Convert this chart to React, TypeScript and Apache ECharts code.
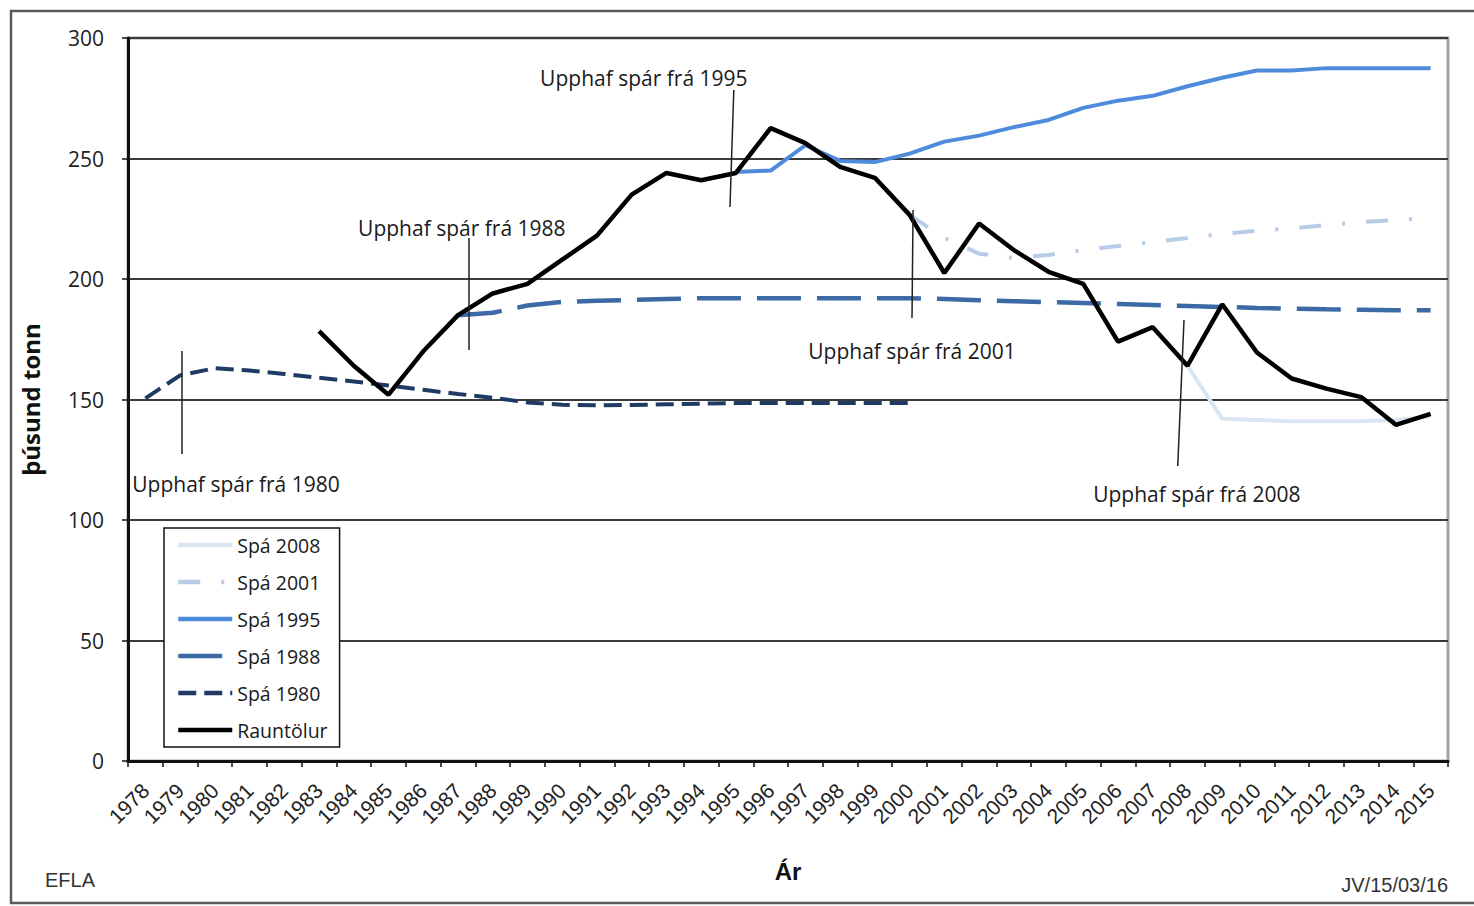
import React, { useEffect, useRef } from "react";
import * as echarts from "echarts";

const years = [
  "1978", "1979", "1980", "1981", "1982", "1983", "1984", "1985", "1986", "1987",
  "1988", "1989", "1990", "1991", "1992", "1993", "1994", "1995", "1996", "1997",
  "1998", "1999", "2000", "2001", "2002", "2003", "2004", "2005", "2006", "2007",
  "2008", "2009", "2010", "2011", "2012", "2013", "2014", "2015",
];

// 1978 .. 2015
const rauntolur = [
  null, null, null, null, null,
  178.4, 164, 152, 170, 185, 194, 198, 208, 218, 235, 244, 241, 244, 262.6, 256.4,
  246.5, 242, 226.6, 202.5, 223, 212, 203, 198, 174, 180, 164, 189.5, 169.5, 158.7,
  154.5, 151, 139.5, 144,
];

const spa1980 = [
  150.5, 160, 163, 162, 160.6, 159, 157.5, 155.8, 154, 152.3, 150.7, 148.8, 147.8,
  147.6, 147.7, 148, 148.3, 148.5, 148.5, 148.5, 148.5, 148.5, 148.5,
  null, null, null, null, null, null, null, null, null, null, null, null, null, null, null,
];

const spa1988 = [
  null, null, null, null, null, null, null, null, null,
  185, 186, 189, 190.5, 191, 191.3, 191.7, 192, 192, 192, 192, 192, 192, 192, 191.7,
  191.2, 190.8, 190.4, 190, 189.6, 189.2, 188.8, 188.4, 188, 187.7, 187.4, 187.2, 187, 187,
];

const spa1995 = [
  null, null, null, null, null, null, null, null, null, null, null, null, null, null,
  null, null, null,
  244.4, 245, 255.5, 249, 248.5, 252, 257, 259.5, 263, 266, 271, 274, 276, 280, 283.5,
  286.5, 286.5, 287.5, 287.5, 287.5, 287.5,
];

const spa2001 = [
  null, null, null, null, null, null, null, null, null, null, null, null, null, null,
  null, null, null, null, null, null, null, null,
  226.6, 217, 210.5, 208.7, 210, 212, 213.7, 215.4, 217, 218.7, 220, 221, 222.4,
  223.6, 224.5, 225.4,
];

const spa2008 = [
  null, null, null, null, null, null, null, null, null, null, null, null, null, null,
  null, null, null, null, null, null, null, null, null, null, null, null, null, null,
  null, null,
  164, 142, 141.5, 141, 141, 141, 141.5, 143,
];

const yTicks = [0, 50, 100, 150, 200, 250, 300];

// Annotation callouts (positions in year / thousand-tonne units)
const annotLabels = [
  "Upphaf spár frá 1980",
  "Upphaf spár frá 1988",
  "Upphaf spár frá 1995",
  "Upphaf spár frá 2001",
  "Upphaf spár frá 2008",
];
const annotLineTop = [
  [1979.04, 170.1],
  [1987.31, 217],
  [1994.94, 278.4],
  [2000.1, 228.6],
  [2007.9, 183],
];
const annotLineBottom = [
  [1979.04, 127.4],
  [1987.31, 170.5],
  [1994.83, 229.9],
  [2000.07, 183.8],
  [2007.72, 122.4],
];
const annotLabelPos = [
  [1980.61, 114.9],
  [1987.11, 221.2],
  [1992.35, 283.4],
  [2000.07, 170.1],
  [2008.27, 110.8],
];

const seriesNames = ["Spá 2008", "Spá 2001", "Spá 1995", "Spá 1988", "Spá 1980", "Rauntölur"];

export default function App() {
  const ref = useRef<HTMLDivElement>(null);

  useEffect(() => {
    document.body.style.margin = "0";
    if (!ref.current) return;
    const chart = echarts.init(ref.current, null, { renderer: "svg" });

    const textFont = "'Open Sans', 'Noto Sans', sans-serif";

    const option: any = {
      animation: false,
      backgroundColor: "#ffffff",
      grid: {
        left: 128,
        top: 38,
        right: 26,
        bottom: 145,
        show: true,
        borderColor: "#a3a3a3",
        borderWidth: 3,
        backgroundColor: "transparent",
      },
      legend: {
        data: seriesNames,
        orient: "vertical",
        left: 164,
        top: 528,
        itemWidth: 54,
        itemHeight: 14,
        itemGap: 17,
        padding: [7, 12, 7, 12],
        backgroundColor: "#ffffff",
        borderColor: "#111111",
        borderWidth: 1.5,
        itemStyle: { opacity: 0 },
        lineStyle: { width: 4.5 },
        textStyle: { fontFamily: textFont, fontSize: 19.5, color: "#1a1a1a" },
      },
      xAxis: [
        {
          type: "category",
          data: years,
          boundaryGap: true,
          name: "Ár",
          nameLocation: "middle",
          nameGap: 98,
          nameTextStyle: {
            fontFamily: "'Liberation Sans', Arial, sans-serif",
            fontWeight: "bold",
            fontSize: 24,
            color: "#111",
          },
          axisLine: { show: true, lineStyle: { color: "#111", width: 3 } },
          axisTick: { show: true, alignWithLabel: false, length: 6, lineStyle: { color: "#111", width: 1.5 } },
          axisLabel: {
            interval: 0,
            rotate: 45,
            margin: 26,
            fontFamily: "'Liberation Sans', Arial, sans-serif",
            fontSize: 21,
            color: "#222",
          },
          splitLine: { show: false },
        },
        {
          type: "value",
          min: 1977.5,
          max: 2015.5,
          show: false,
          splitLine: { show: false },
        },
      ],
      yAxis: {
        type: "value",
        min: 0,
        max: 300,
        interval: 50,
        name: "þúsund tonn",
        nameLocation: "middle",
        nameGap: 86,
        nameTextStyle: { fontFamily: textFont, fontWeight: "bold", fontSize: 24, color: "#111" },
        axisLine: { show: true, lineStyle: { color: "#111", width: 3 } },
        axisTick: { show: true, length: 6, lineStyle: { color: "#111", width: 1.5 } },
        axisLabel: {
          margin: 24,
          fontFamily: textFont,
          fontSize: 21,
          color: "#222",
          formatter: (v: number) => (yTicks.includes(v) ? String(v) : ""),
        },
        splitLine: { show: true, lineStyle: { color: "#3a3a3a", width: 2.2 } },
      },
      series: [
        {
          name: "Spá 1980",
          type: "line",
          data: spa1980,
          symbol: "none",
          z: 3,
          lineStyle: { color: "#1f3b63", width: 4, type: [18, 8], cap: "butt" },
          itemStyle: { color: "#1f3b63" },
        },
        {
          name: "Spá 1988",
          type: "line",
          data: spa1988,
          symbol: "none",
          z: 3,
          lineStyle: { color: "#3b6aa5", width: 4.5, type: [44, 16], cap: "butt" },
          itemStyle: { color: "#3b6aa5" },
        },
        {
          name: "Spá 1995",
          type: "line",
          data: spa1995,
          symbol: "none",
          z: 3,
          lineStyle: { color: "#4f8bdc", width: 4 },
          itemStyle: { color: "#4f8bdc" },
        },
        {
          name: "Spá 2001",
          type: "line",
          data: spa2001,
          symbol: "none",
          z: 3,
          lineStyle: { color: "#b8cce8", width: 4, type: [22, 21, 3, 21], cap: "butt" },
          itemStyle: { color: "#b8cce8" },
        },
        {
          name: "Spá 2008",
          type: "line",
          data: spa2008,
          symbol: "none",
          z: 3,
          lineStyle: { color: "#dae5f3", width: 4 },
          itemStyle: { color: "#dae5f3" },
        },
        {
          name: "Rauntölur",
          type: "line",
          data: rauntolur,
          symbol: "none",
          z: 4,
          lineStyle: { color: "#000000", width: 4.5 },
          itemStyle: { color: "#000000" },
        },
        {
          name: "annotations",
          type: "line",
          xAxisIndex: 1,
          data: [],
          symbol: "none",
          z: 5,
          silent: true,
          markLine: {
            silent: true,
            symbol: ["none", "none"],
            label: { show: false },
            lineStyle: { color: "#222", width: 1.5, type: "solid" },
            data: annotLineTop.map((t, i) => [
              { coord: t },
              { coord: annotLineBottom[i] },
            ]),
          },
          markPoint: {
            silent: true,
            symbol: "circle",
            symbolSize: 0,
            label: {
              show: true,
              position: "inside",
              fontFamily: textFont,
              fontSize: 21,
              color: "#1a1a1a",
              formatter: (p: any) => p.name,
            },
            data: annotLabelPos.map((p, i) => ({ name: annotLabels[i], coord: p })),
          },
        },
      ],
      graphic: [
        {
          type: "rect",
          shape: { x: 11, y: 11, width: 1480, height: 892 },
          style: { fill: "none", stroke: "#5a5a5a", lineWidth: 2.5 },
          silent: true,
          z: -10,
        },
        {
          type: "text",
          left: 45,
          top: 870,
          style: {
            text: "EFLA",
            font: "20px 'Liberation Sans', Arial, sans-serif",
            fill: "#333",
          },
        },
        {
          type: "text",
          right: 26,
          top: 875,
          style: {
            text: "JV/15/03/16",
            font: "20px 'Liberation Sans Narrow', 'Liberation Sans', Arial, sans-serif",
            fill: "#333",
          },
        },
      ],
    };

    chart.setOption(option);
    return () => chart.dispose();
  }, []);

  return (
    <div
      ref={ref}
      style={{ position: "fixed", left: 0, top: 0, width: 1474, height: 906 }}
    />
  );
}
